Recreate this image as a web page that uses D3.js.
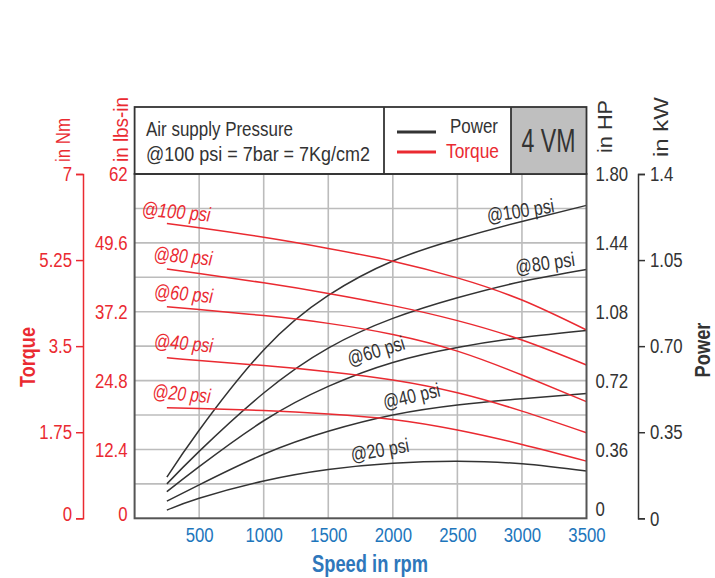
<!DOCTYPE html>
<html>
<head>
<meta charset="utf-8">
<script src="https://cdn.jsdelivr.net/npm/d3@7"></script>
<style>
  html, body { margin: 0; padding: 0; background: #fff; }
  svg { display: block; }
  text { font-family: "Liberation Sans", Arial, sans-serif; }
</style>
</head>
<body>
<svg id="chart" width="715" height="578"></svg>
<script>
// Speed points (rpm) shared by every curve
const rpm = [250, 500, 1000, 1500, 2000, 2500, 3000, 3500];

// Torque in lbs-in, by supply pressure
const torque100 = [53.1, 52.3, 50.6, 48.6, 46.3, 43.3, 39.3, 33.9];
const torque80  = [44.9, 44.1, 42.4, 40.5, 38.3, 35.6, 32.1, 27.6];
const torque60  = [38.1, 37.6, 36.5, 35.1, 33.1, 30.1, 25.8, 21.0];
const torque40  = [28.9, 28.4, 27.5, 26.4, 24.9, 22.6, 19.3, 15.4];
const torque20  = [19.9, 19.75, 19.4, 18.8, 17.8, 15.9, 13.3, 10.3];

// Power in HP, by supply pressure
const power100 = [0.215, 0.46, 0.88, 1.165, 1.345, 1.46, 1.552, 1.636];
const power80  = [0.18, 0.35, 0.655, 0.89, 1.045, 1.153, 1.238, 1.301];
const power60  = [0.139, 0.27, 0.51, 0.69, 0.815, 0.893, 0.945, 0.982];
const power40  = [0.09, 0.175, 0.335, 0.455, 0.54, 0.592, 0.625, 0.652];
const power20  = [0.043, 0.105, 0.195, 0.255, 0.288, 0.298, 0.285, 0.247];

const pressures = ["@100 psi", "@80 psi", "@60 psi", "@40 psi", "@20 psi"];

// Axis ticks
const speedTicks = [500, 1000, 1500, 2000, 2500, 3000, 3500];
const nmTicks = [0, 1.75, 3.5, 5.25, 7];
const nmLabels = ["0", "1.75", "3.5", "5.25", "7"];
const lbsTicks = [0, 12.4, 24.8, 37.2, 49.6, 62];
const lbsLabels = ["0", "12.4", "24.8", "37.2", "49.6", "62"];
const hpTicks = [0, 0.36, 0.72, 1.08, 1.44, 1.8];
const hpLabels = ["0", "0.36", "0.72", "1.08", "1.44", "1.80"];
const kwTicks = [0, 0.35, 0.7, 1.05, 1.4];
const kwLabels = ["0", "0.35", "0.70", "1.05", "1.4"];

const RED = "#ea2a31", DARK = "#333333", BLUE = "#1d76bc", GRID = "#bcbcbc", FRAME = "#555555";
const NARROW = 0.8;   // horizontal squeeze giving a condensed face

const svg = d3.select("#chart");
const L = 134.6, R = 586.5, T = 174, B = 518.3, HT = 107;

const x = d3.scaleLinear().domain([0, 3500]).range([L, R]);
const yLbs = d3.scaleLinear().domain([0, 62]).range([B, T]);
const yNm = d3.scaleLinear().domain([0, 7]).range([B, T]);
const yHp = d3.scaleLinear().domain([0, 1.8]).range([B, T]);
const yKw = d3.scaleLinear().domain([0, 1.4]).range([B, T]);

// Squeeze axis text horizontally around its anchor point
function condense(sel) {
  sel.each(function () {
    const t = d3.select(this);
    const x0 = +(t.attr("x") || 0);
    const y0 = +(t.attr("y") || 0);
    const tr = t.attr("transform") || "";
    t.attr("x", 0).attr("y", 0)
      .attr("transform", `${tr} translate(${x0},${y0}) scale(${NARROW},1)`);
  });
}

// Positioned text helper; width (px) fixes the drawn length
function label(g, px, py, txt, opts = {}) {
  const t = g.append("text")
    .attr("transform", `translate(${px},${py}) rotate(${opts.rotate || 0}) scale(${NARROW},1)`)
    .attr("text-anchor", opts.anchor || "start")
    .attr("font-size", opts.size || 20)
    .attr("font-weight", opts.weight || "normal")
    .attr("font-style", opts.italic ? "italic" : "normal")
    .attr("fill", opts.color || DARK)
    .text(txt);
  if (opts.width) t.attr("textLength", opts.width / NARROW).attr("lengthAdjust", "spacingAndGlyphs");
  return t;
}

// Grid
const grid = svg.append("g").attr("stroke", GRID).attr("stroke-width", 1.6);
grid.selectAll("line.v").data(speedTicks.slice(0, -1)).join("line")
  .attr("x1", d => x(d)).attr("x2", d => x(d)).attr("y1", T).attr("y2", B);
grid.selectAll("line.h").data(d3.range(1, 10).map(i => i * 6.2)).join("line")
  .attr("x1", L).attr("x2", R).attr("y1", d => yLbs(d)).attr("y2", d => yLbs(d));

// Curves
const line = scaleY => d3.line().x((d, i) => x(rpm[i])).y(d => scaleY(d)).curve(d3.curveNatural);
const torqueSeries = [torque100, torque80, torque60, torque40, torque20];
const powerSeries = [power100, power80, power60, power40, power20];

svg.append("g").selectAll("path").data(powerSeries).join("path")
  .attr("d", line(yHp)).attr("fill", "none").attr("stroke", DARK).attr("stroke-width", 1.5);
svg.append("g").selectAll("path").data(torqueSeries).join("path")
  .attr("d", line(yLbs)).attr("fill", "none").attr("stroke", RED).attr("stroke-width", 1.5);

// Curve labels
const torqueLabelPos = [[175.5, 218.5, 69], [182.5, 263, 59], [183, 300.5, 59], [183, 350, 59], [181, 400.5, 58]];
const tl = svg.append("g");
pressures.forEach((p, i) => label(tl, torqueLabelPos[i][0], torqueLabelPos[i][1], p,
  { anchor: "middle", italic: true, size: 20, color: RED, rotate: 5, width: torqueLabelPos[i][2] }));

const powerLabelPos = [[521.5, 217.5, -9, 68], [546, 270, -8, 60], [378, 357.5, -17, 59], [413, 402.7, -13, 58], [381, 456.7, -10, 59]];
const pl = svg.append("g");
pressures.forEach((p, i) => label(pl, powerLabelPos[i][0], powerLabelPos[i][1], p,
  { anchor: "middle", size: 20, color: DARK, rotate: powerLabelPos[i][2], width: powerLabelPos[i][3] }));

// Plot frame
svg.append("rect").attr("x", L).attr("y", T).attr("width", R - L).attr("height", B - T)
  .attr("fill", "none").attr("stroke", FRAME).attr("stroke-width", 2);

// Header box
const hdr = svg.append("g");
hdr.append("rect").attr("x", 511).attr("y", HT).attr("width", R - 511).attr("height", T - HT)
  .attr("fill", "#bfbfbf");
hdr.append("rect").attr("x", L).attr("y", HT).attr("width", R - L).attr("height", T - HT)
  .attr("fill", "none").attr("stroke", DARK).attr("stroke-width", 1.8);
[384, 511].forEach(px => hdr.append("line").attr("x1", px).attr("x2", px).attr("y1", HT).attr("y2", T)
  .attr("stroke", DARK).attr("stroke-width", 1.8));
label(hdr, 146, 136, "Air supply Pressure", { size: 21, width: 147 });
label(hdr, 146, 161, "@100 psi = 7bar = 7Kg/cm2", { size: 21, width: 224 });
hdr.append("line").attr("x1", 397).attr("x2", 436).attr("y1", 132).attr("y2", 132)
  .attr("stroke", DARK).attr("stroke-width", 3.2);
hdr.append("line").attr("x1", 397).attr("x2", 436).attr("y1", 152).attr("y2", 152)
  .attr("stroke", RED).attr("stroke-width", 3.2);
label(hdr, 498, 133, "Power", { anchor: "end", size: 21, width: 48 });
label(hdr, 499, 158, "Torque", { anchor: "end", size: 21, color: RED, width: 53 });
label(hdr, 548.5, 152, "4 VM", { anchor: "middle", size: 33, width: 54 });

// Axis helper: restyle text/lines after d3 draws them
function styleAxis(g, color, size) {
  g.attr("font-family", null).attr("font-size", null);
  g.selectAll("text").attr("fill", color).attr("font-size", size);
  g.selectAll("line,path").attr("stroke", color).attr("stroke-width", 1.5);
  condense(g.selectAll("text"));
}

// Torque in Nm (outer left)
const gNm = svg.append("g").attr("transform", "translate(83,0)")
  .call(d3.axisLeft(yNm).tickValues(nmTicks).tickFormat((d, i) => nmLabels[i])
    .tickSize(7).tickSizeOuter(7).tickPadding(4));
gNm.selectAll(".tick").filter(d => d === 0).select("text").attr("y", -5);
styleAxis(gNm, RED, 21);

// Torque in lbs-in (next to the plot)
const gLbs = svg.append("g").attr("transform", `translate(${L},0)`)
  .call(d3.axisLeft(yLbs).tickValues(lbsTicks).tickFormat((d, i) => lbsLabels[i])
    .tickSize(0).tickPadding(7));
gLbs.select(".domain").remove();
gLbs.selectAll(".tick").filter(d => d === 0).select("text").attr("y", -5);
styleAxis(gLbs, RED, 21);

// Power in HP (next to the plot)
const gHp = svg.append("g").attr("transform", `translate(${R},0)`)
  .call(d3.axisRight(yHp).tickValues(hpTicks).tickFormat((d, i) => hpLabels[i])
    .tickSize(0).tickPadding(9));
gHp.select(".domain").remove();
gHp.selectAll(".tick").filter(d => d === 0).select("text").attr("y", -10);
styleAxis(gHp, DARK, 21);

// Power in kW (outer right)
const gKw = svg.append("g").attr("transform", "translate(638,0)")
  .call(d3.axisRight(yKw).tickValues(kwTicks).tickFormat((d, i) => kwLabels[i])
    .tickSize(7).tickSizeOuter(7).tickPadding(5));
styleAxis(gKw, DARK, 21);

// Speed axis labels
const gX = svg.append("g").attr("transform", `translate(0,${B})`)
  .call(d3.axisBottom(x).tickValues(speedTicks).tickSize(0).tickPadding(9).tickFormat(d3.format("d")));
gX.select(".domain").remove();
styleAxis(gX, BLUE, 21);

// Axis titles
const titles = svg.append("g");
label(titles, 70, 162, "in Nm", { color: RED, rotate: -90, width: 44 });
label(titles, 128, 162, "in lbs-in", { color: RED, rotate: -90, width: 65 });
label(titles, 612, 153, "in HP", { rotate: -90, width: 53 });
label(titles, 668, 157, "in kW", { rotate: -90, width: 60 });
label(titles, 35, 357, "Torque", { color: RED, size: 22, weight: "bold", anchor: "middle", rotate: -90, width: 60 });
label(titles, 710, 350, "Power", { size: 22, weight: "bold", anchor: "middle", rotate: -90, width: 55 });
label(titles, 370, 572, "Speed in rpm", { color: "#2e77bb", size: 23, weight: "bold", anchor: "middle", width: 116 });
</script>
</body>
</html>
